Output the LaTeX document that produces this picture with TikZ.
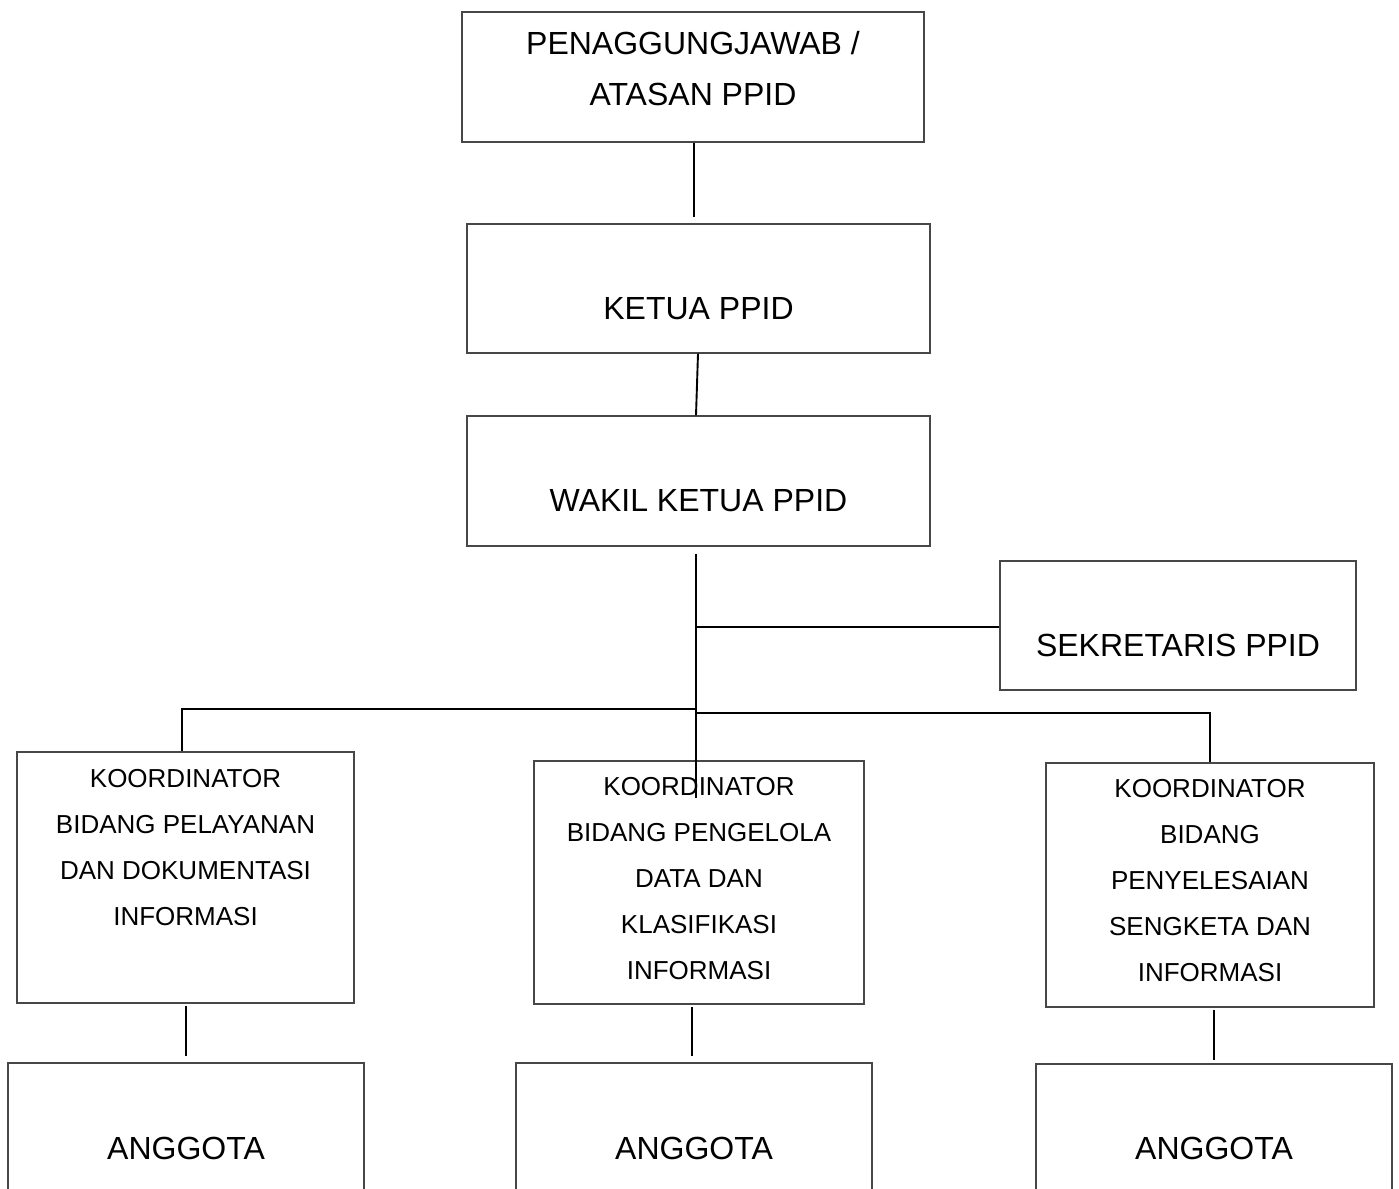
\documentclass[tikz,border=0pt]{standalone}
\usepackage{fontspec}
\setmainfont{Liberation Sans}
\begin{document}
\begin{tikzpicture}[x=1pt,y=-1pt,
  box/.style={draw=black!72, line width=1.3pt, rectangle, inner sep=0pt},
  big/.style={font=\fontsize{32}{50.7}\selectfont, align=center, inner sep=0pt},
  small/.style={font=\fontsize{26}{46}\selectfont, align=center, inner sep=0pt},
  conn/.style={draw=black, line width=1.9pt}]
\clip (0,0) rectangle (1399,1188);
\fill[white] (0,0) rectangle (1399,1188);

\node[box, minimum width=462pt, minimum height=130pt,
  label={[big, yshift=8.5pt]center:PENAGGUNGJAWAB /\\ATASAN PPID}] (top) at (693,77) {};
\node[box, minimum width=463pt, minimum height=129pt,
  label={[big, yshift=-20.5pt]center:KETUA PPID}] (ketua) at (698.5,288.5) {};
\node[box, minimum width=463pt, minimum height=130pt,
  label={[big, yshift=-20pt]center:WAKIL KETUA PPID}] (wakil) at (698.5,481) {};
\node[box, minimum width=356pt, minimum height=129pt,
  label={[big, yshift=-19.5pt]center:SEKRETARIS PPID}] (sek) at (1178,625.5) {};

\node[box, minimum width=337pt, minimum height=251pt,
  label={[small, yshift=30pt]center:KOORDINATOR\\BIDANG PELAYANAN\\DAN DOKUMENTASI\\INFORMASI}] (kl) at (185.5,877.5) {};
\node[box, minimum width=330pt, minimum height=243pt,
  label={[small, yshift=3.5pt]center:KOORDINATOR\\BIDANG PENGELOLA\\DATA DAN\\KLASIFIKASI\\INFORMASI}] (km) at (699,882.5) {};
\node[box, minimum width=328pt, minimum height=244pt,
  label={[small, yshift=4pt]center:KOORDINATOR\\BIDANG\\PENYELESAIAN\\SENGKETA DAN\\INFORMASI}] (kr) at (1210,885) {};

\node[box, minimum width=356pt, minimum height=150pt,
  label={[big, yshift=-10pt]center:ANGGOTA}] (al) at (186,1138) {};
\node[box, minimum width=356pt, minimum height=150pt,
  label={[big, yshift=-10pt]center:ANGGOTA}] (am) at (694,1138) {};
\node[box, minimum width=356pt, minimum height=150pt,
  label={[big, yshift=-9pt]center:ANGGOTA}] (ar) at (1214,1139) {};

\coordinate (trunkend) at (696,798);
\coordinate (jsek) at (696,627);
\coordinate (jleft) at (696,709);
\coordinate (jright) at (696,713);

\draw[conn, shorten >=6pt] ([xshift=1pt]top.south) -- ([xshift=1pt]top.south |- ketua.north);
\draw[conn] ([xshift=-0.5pt]ketua.south) -- ([xshift=-2.5pt]wakil.north);
\draw[conn, shorten <=7pt] ([xshift=-2.5pt]wakil.south) -- (trunkend);
\draw[conn] (jsek) -- (jsek -| sek.west);
\draw[conn] (jleft) -| ([xshift=-3.5pt]kl.north);
\draw[conn] (jright) -| (kr.north);
\draw[conn, shorten <=2pt, shorten >=6pt] (al.north |- kl.south) -- (al.north);
\draw[conn, shorten <=2pt, shorten >=6pt] ([xshift=-2pt]am.north |- km.south) -- ([xshift=-2pt]am.north);
\draw[conn, shorten <=2pt, shorten >=3pt] (ar.north |- kr.south) -- (ar.north);
\end{tikzpicture}
\end{document}
